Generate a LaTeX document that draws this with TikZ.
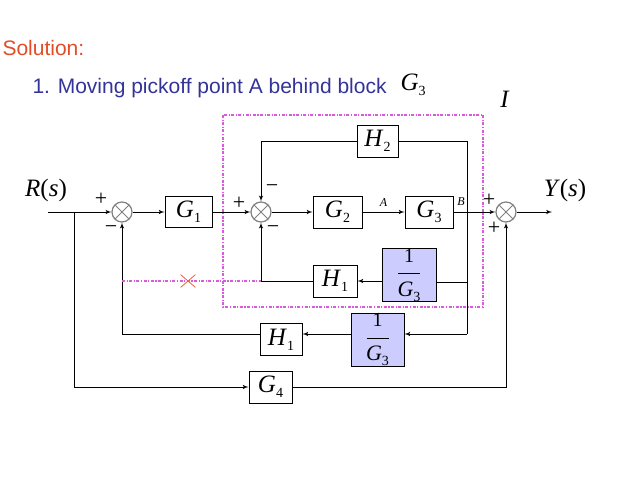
\documentclass[tikz,border=0pt]{standalone}
\usepackage{fontspec}
\setmainfont{Liberation Serif}
\newfontfamily\arial{Liberation Sans}
\usetikzlibrary{arrows,positioning,shapes.misc}
\definecolor{navy}{RGB}{51,51,153}
\definecolor{solred}{RGB}{228,76,38}
\definecolor{lavender}{RGB}{204,204,255}
\definecolor{pinkdash}{RGB}{218,90,222}
\definecolor{crossred}{RGB}{232,100,70}
\newcommand{\blk}[2]{\textit{#1}\raisebox{-5pt}{\fontsize{14}{14}\selectfont #2}}
\newcommand{\invg}{{\fontsize{20}{20}\selectfont 1}\\[-8pt]\rule[1pt]{22pt}{0.8pt}\\[0pt]\blk{G}{3}}

\begin{document}
\begin{tikzpicture}[x=1pt,y=-1pt,>=latex',line width=1pt,
                    font=\fontsize{25}{25}\selectfont]
  \tikzstyle{block}=[draw,fill=white,inner sep=0pt,minimum width=44pt,minimum height=32pt]
  \tikzstyle{inv}=[block,fill=lavender,minimum width=54pt,minimum height=53pt,
                   align=center,font=\fontsize{22}{21}\selectfont]
  \tikzstyle{sum}=[circle,draw=gray,line width=1.2pt,minimum size=20pt,inner sep=0pt,
                   path picture={\draw[gray,line width=1pt]
                     (path picture bounding box.north west) -- (path picture bounding box.south east)
                     (path picture bounding box.north east) -- (path picture bounding box.south west);}]
  \tikzstyle{sign}=[inner sep=0pt,font=\fontsize{22}{22}\selectfont]
  \tikzstyle{lbl}=[inner sep=0pt,font=\fontsize{12}{12}\selectfont\itshape]
  \tikzstyle{cutline}=[draw=pinkdash,line width=1.1pt,dash pattern=on 3pt off 1.5pt on 1.2pt off 1.5pt]

  \useasboundingbox (0,0) rectangle (638,479);

  % heading
  \node[anchor=base west,inner sep=0pt,text=solred,font=\arial\fontsize{21}{21}\selectfont] (sol) at (2,56) {Solution:};
  \node[anchor=base west,inner sep=0pt,text=navy,font=\arial\fontsize{21}{21}\selectfont] (step) at (32,93)
       {1. Moving pickoff point A behind block};
  \node[anchor=base west,inner sep=0pt] (tg3) at (400,90) {\blk{G}{3}};
  \node[anchor=base,inner sep=0pt] (ilab) at (505,107) {\textit{I}};

  % forward path
  \node[sum] (s1) at (122,212) {};
  \node[block,minimum width=47pt,minimum height=31pt] (g1) at (188.5,212) {\blk{G}{1}};
  \node[sum] (s2) at (261,212) {};
  \node[block,minimum width=49pt] (g2) at (337.5,212) {\blk{G}{2}};
  \node[block,minimum width=48pt] (g3) [right=42pt of g2] {\blk{G}{3}};
  \node[sum] (s3) at (506,212) {};

  % feedback blocks
  \node[block,minimum width=41pt] (h2) at (377.5,141) {\blk{H}{2}};
  \node[inv] (ig3) at (409,275) {\invg};
  \node[block] (h1a) at (335,281) {\blk{H}{1}};
  \node[inv,minimum width=53pt] (ig3b) at (377.5,339.5) {\invg};
  \node[block,minimum width=42pt] (h1b) [left=48pt of ig3b] {\blk{H}{1}};
  \node[block,minimum width=43pt] (g4) at (270.5,387) {\blk{G}{4}};

  \coordinate (rin) at (48,212);
  \coordinate (j) at (74,212);
  \coordinate (pk) at (467,212);
  \coordinate (pki) at (467,282);
  \coordinate (pkb) at (467,334);
  \coordinate (yout) at (552,212);

  \node (rlab) at (46,190) {\textit{R}(\textit{s})};
  \node (ylab) at (565,190) {\textit{Y}(\textit{s})};

  % signs
  \node[sign] at (101,199) {+};
  \node[sign] at (111,230) {−};
  \node[sign] at (272,189) {−};
  \node[sign] at (239,203) {+};
  \node[sign] at (273,230) {−};
  \node[sign] at (489,200) {+};
  \node[sign] at (494,228) {+};

  \draw (rin) -- (j);
  \draw[->] (j) -- (s1);
  \draw[->] (s1) -- (g1);
  \draw[->] (g1) -- (s2);
  \draw[->] (s2) -- (g2);
  \draw[->] (g2) -- node[lbl,above=5pt] {A} (g3);
  \draw (g3) -- node[lbl,above=6pt,pos=0.55] {B} (pk);
  \draw[->] (pk) -- (s3);
  \draw[->] (s3) -- (yout);

  \draw[->] (h2) -| (s2);
  \draw (h2) -| (pkb);
  \draw (pki) -- (pki -| ig3.east);
  \draw[->] (ig3.west |- h1a) -- (h1a);
  \draw[->] (h1a) -| (s2);
  \draw[->] (pkb) -- (pkb -| ig3b.east);
  \draw[->] (ig3b.west |- pkb) -- (pkb -| h1b.east);
  \draw[->] (pkb -| h1b.west) -| (s1);
  \draw[->] (j) |- (g4);
  \draw[->] (g4) -| (s3);

  % removed path and moved region
  \path[cutline] (s1 |- h1a) -- (s2 |- h1a);
  \node[draw=crossred,cross out,line width=0.8pt,minimum width=14pt,minimum height=12pt] (x) at (188,281) {};
  \path[cutline] (223,115) rectangle (483,307);
\end{tikzpicture}
\end{document}
